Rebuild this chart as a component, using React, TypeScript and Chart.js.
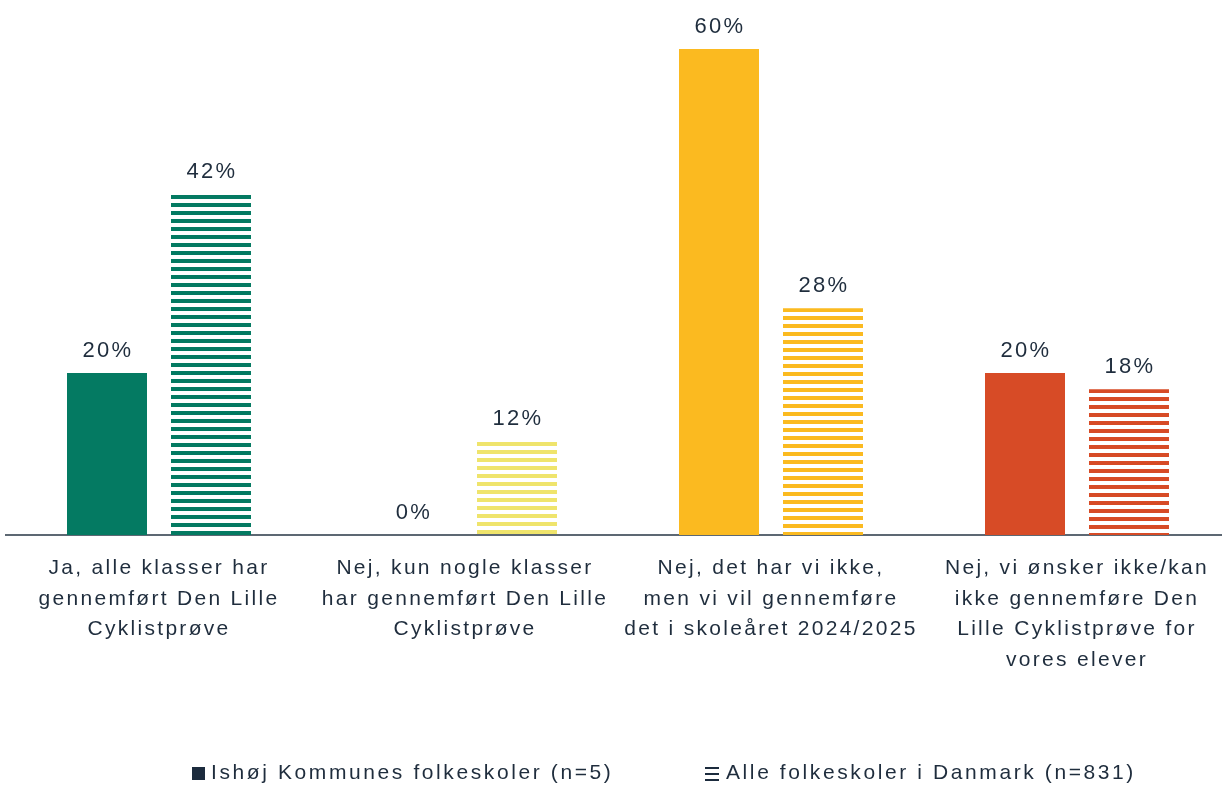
import React, { useEffect, useRef } from 'react';
import { Chart, registerables } from 'chart.js';

Chart.register(...registerables);

const categories: string[][] = [
  ['Ja, alle klasser har', 'gennemført Den Lille', 'Cyklistprøve'],
  ['Nej, kun nogle klasser', 'har gennemført Den Lille', 'Cyklistprøve'],
  ['Nej, det har vi ikke,', 'men vi vil gennemføre', 'det i skoleåret 2024/2025'],
  ['Nej, vi ønsker ikke/kan', 'ikke gennemføre Den', 'Lille Cyklistprøve for', 'vores elever'],
];
const seriesNames = ['Ishøj Kommunes folkeskoler (n=5)', 'Alle folkeskoler i Danmark (n=831)'];
const ishojValues = [20, 0, 60, 20];
const danmarkValues = [42, 11.5, 28, 18];

const barColors = ['#047a62', '#efe46c', '#fbba20', '#d74b26'];
const TEXT = '#1f2d3d';
const NAVY = '#1c2b3d';
const AXIS = '#5d6873';
const FONT = '"Liberation Sans", Arial, sans-serif';
const SPACING = '2.3px';

const patternCache: Record<string, CanvasPattern> = {};
function stripePattern(ctx: CanvasRenderingContext2D, color: string, top: number) {
  const key = color + '|' + top.toFixed(2);
  if (patternCache[key]) return patternCache[key];
  const c = document.createElement('canvas');
  c.width = 4;
  c.height = 8;
  const g = c.getContext('2d')!;
  g.fillStyle = color;
  g.fillRect(0, 0, 4, 4);
  const p = ctx.createPattern(c, 'repeat')!;
  p.setTransform(new DOMMatrix([1, 0, 0, 1, 0, Math.round(top)]));
  patternCache[key] = p;
  return p;
}

const spacingPlugin = {
  id: 'spacing',
  beforeUpdate(chart: any) {
    (chart.ctx as any).letterSpacing = SPACING;
  },
  beforeDraw(chart: any) {
    (chart.ctx as any).letterSpacing = SPACING;
  },
};

const dataLabelPlugin = {
  id: 'dataLabels',
  afterDatasetsDraw(chart: any) {
    const ctx = chart.ctx as CanvasRenderingContext2D;
    ctx.save();
    (ctx as any).letterSpacing = SPACING;
    ctx.font = `22px ${FONT}`;
    ctx.fillStyle = TEXT;
    ctx.textAlign = 'center';
    ctx.textBaseline = 'middle';
    chart.data.datasets.forEach((ds: any, di: number) => {
      const meta = chart.getDatasetMeta(di);
      meta.data.forEach((el: any, i: number) => {
        const v = ds.data[i];
        ctx.fillText(Math.round(v) + '%', el.x + 1, el.y - 22.5);
      });
    });
    ctx.restore();
  },
};

const legendPlugin = {
  id: 'customLegend',
  afterDraw(chart: any) {
    const ctx = chart.ctx as CanvasRenderingContext2D;
    ctx.save();
    (ctx as any).letterSpacing = '2.6px';
    ctx.font = `21px ${FONT}`;
    ctx.textBaseline = 'middle';
    ctx.textAlign = 'left';
    const cy = 773.5;
    ctx.fillStyle = NAVY;
    ctx.fillRect(192, 767, 13, 13);
    ctx.fillStyle = TEXT;
    ctx.fillText(seriesNames[0], 211, cy);
    ctx.fillStyle = NAVY;
    [767, 773, 779].forEach((y) => ctx.fillRect(705, y, 14, 2));
    ctx.fillStyle = TEXT;
    ctx.fillText(seriesNames[1], 726, cy);
    ctx.restore();
  },
};

export default function App() {
  const ref = useRef<HTMLCanvasElement | null>(null);
  useEffect(() => {
    if (!ref.current) return;
    const chart = new Chart(ref.current, {
      type: 'bar',
      data: {
        labels: categories,
        datasets: [
          {
            label: seriesNames[0],
            data: ishojValues,
            backgroundColor: barColors,
            borderWidth: 0,
            categoryPercentage: 0.6797,
            barPercentage: 0.7692,
          },
          {
            label: seriesNames[1],
            data: danmarkValues,
            backgroundColor: (c: any) => {
              const color = barColors[c.dataIndex % barColors.length];
              if (c.type !== 'data' || !c.chart.scales || !c.chart.scales.y) return color;
              const top = c.chart.scales.y.getPixelForValue(c.raw);
              return stripePattern(c.chart.ctx, color, top);
            },
            borderWidth: 0,
            categoryPercentage: 0.6797,
            barPercentage: 0.7692,
          },
        ],
      },
      options: {
        responsive: false,
        maintainAspectRatio: false,
        devicePixelRatio: 1,
        animation: false,
        layout: { padding: { left: 6, right: 2, top: 8.5, bottom: 0 } },
        plugins: {
          legend: { display: false },
          tooltip: { enabled: false },
        },
        scales: {
          x: {
            offset: true,
            grid: { display: false, drawTicks: false },
            border: { display: true, color: AXIS, width: 2 },
            ticks: {
              color: TEXT,
              font: { family: FONT, size: 21, lineHeight: 30.5 / 21 },
              padding: 18,
              maxRotation: 0,
              minRotation: 0,
              autoSkip: false,
            },
            afterFit: (scale: any) => {
              scale.height = 252;
            },
          },
          y: {
            display: false,
            min: 0,
            max: 65,
          },
        },
      },
      plugins: [spacingPlugin, dataLabelPlugin, legendPlugin],
    });
    return () => chart.destroy();
  }, []);

  return (
    <div
      style={{
        position: 'fixed',
        left: 0,
        top: 0,
        width: 1222,
        height: 787,
        overflow: 'hidden',
        background: '#ffffff',
      }}
    >
      <canvas ref={ref} width={1232} height={787} style={{ display: 'block', width: 1232, height: 787 }} />
    </div>
  );
}
